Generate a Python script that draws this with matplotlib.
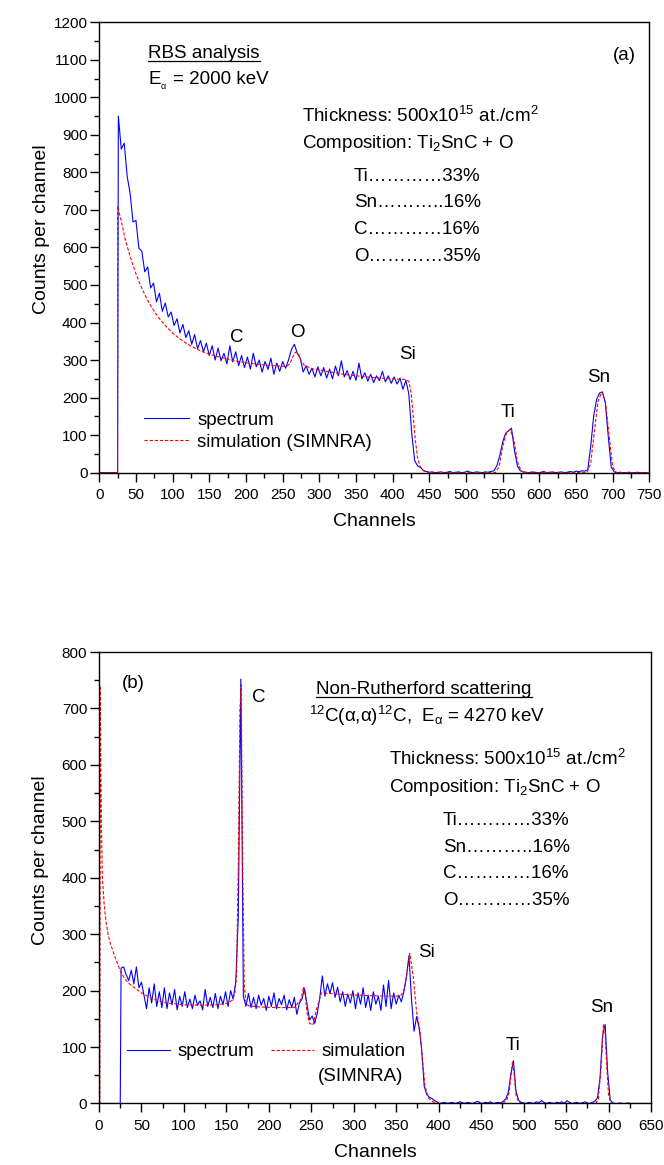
import numpy as np
import matplotlib
matplotlib.use("Agg")
import matplotlib.pyplot as plt
from matplotlib.lines import Line2D
from matplotlib.ticker import MultipleLocator

plt.rcParams['font.family'] = ['Liberation Sans', 'DejaVu Sans']
plt.rcParams['mathtext.fontset'] = 'custom'
plt.rcParams['mathtext.rm'] = 'Liberation Sans'
plt.rcParams['mathtext.it'] = 'Liberation Sans:italic'

# ---- panel (a): RBS, E = 2000 keV ----
a_lead_ch = [0, 25]
a_lead_counts = [0, 0]
a_ch = np.arange(26, 747, 4)
a_counts = [950, 862, 878, 790, 745, 668, 672, 598, 590, 535,
            548, 492, 505, 455, 478, 430, 452, 415, 428, 392,
            410, 372, 395, 360, 378, 342, 368, 330, 352, 322,
            345, 312, 338, 300, 332, 298, 318, 290, 338, 295,
            322, 285, 312, 280, 308, 276, 318, 282, 300, 268,
            296, 275, 305, 262, 292, 270, 296, 278, 300, 328,
            342, 318, 305, 268, 285, 262, 278, 255, 282, 258,
            280, 252, 276, 250, 284, 258, 298, 255, 272, 248,
            270, 246, 292, 250, 266, 244, 262, 240, 258, 245,
            270, 242, 258, 238, 255, 236, 252, 222, 246, 210,
            105, 32, 18, 14, 5, 3, 1, 2, 0, 1,
            2, 0, 1, 3, 0, 1, 2, 0, 1, 4,
            1, 0, 2, 1, 0, 2, 1, 3, 5, 18,
            45, 82, 105, 112, 118, 60, 18, 5, 2, 1,
            0, 2, 1, 0, 1, 3, 0, 1, 2, 0,
            1, 2, 0, 1, 3, 1, 4, 2, 5, 4,
            8, 70, 150, 195, 212, 215, 185, 95, 15, 2,
            0, 1, 0, 0, 1, 0, 0, 1, 0, 0,
            0]

a_sim_ch = [0, 25, 25, 30, 35, 40, 45, 50, 55, 60, 65, 70, 80, 90, 100,
            110, 120, 130, 140, 150, 160, 170, 180, 190, 200, 215, 230,
            245, 255, 260, 263, 266, 269, 272, 275, 280, 290, 310, 330,
            350, 370, 390, 410, 418, 422, 425, 428, 431, 434, 437, 440,
            445, 450, 540, 545, 550, 555, 560, 565, 570, 575, 580, 665,
            670, 675, 680, 685, 690, 695, 700, 705, 750]
a_sim_counts = [0, 0, 710, 670, 625, 590, 558, 530, 505, 483, 463, 445,
                415, 392, 372, 356, 343, 332, 323, 316, 310, 305, 300,
                296, 293, 289, 286, 284, 283, 290, 305, 318, 322, 315,
                298, 285, 277, 270, 263, 258, 254, 251, 249, 248, 243,
                215, 150, 85, 40, 18, 8, 3, 0, 0, 15, 70, 105, 115, 90,
                30, 5, 0, 0, 25, 110, 190, 215, 190, 100, 15, 0, 0]

# ---- panel (b): non-Rutherford, E = 4270 keV ----
b_lead_ch = [0, 25]
b_lead_counts = [0, 0]
b_ch = np.arange(26, 648, 3)
b_counts = [240, 242, 228, 218, 236, 212, 242, 205, 215, 192,
            168, 205, 178, 212, 172, 198, 170, 205, 168, 196,
            175, 202, 166, 190, 172, 198, 170, 185, 168, 192,
            174, 182, 166, 202, 172, 188, 170, 195, 168, 190,
            175, 198, 172, 200, 185, 215, 330, 752, 190, 172,
            195, 170, 188, 168, 192, 174, 186, 165, 190, 172,
            196, 168, 186, 175, 192, 166, 184, 170, 188, 158,
            178, 185, 204, 175, 148, 155, 142, 160, 188, 226,
            190, 212, 195, 214, 188, 206, 180, 198, 172, 194,
            178, 200, 168, 196, 176, 205, 170, 192, 165, 198,
            176, 190, 165, 210, 172, 218, 168, 196, 176, 192,
            180, 198, 225, 262, 185, 128, 154, 134, 95, 30,
            16, 11, 9, 5, 3, 0, 1, 2, 0, 1,
            2, 0, 1, 3, 1, 0, 2, 1, 0, 2,
            4, 1, 0, 2, 1, 3, 0, 1, 2, 1,
            4, 8, 20, 52, 76, 22, 6, 2, 1, 0,
            2, 1, 0, 3, 1, 5, 2, 0, 2, 1,
            0, 2, 1, 3, 0, 5, 2, 0, 1, 2,
            0, 1, 3, 1, 0, 2, 4, 10, 45, 120,
            140, 55, 6, 1, 0, 0, 1, 0, 0, 1,
            0, 0, 0, 0, 0, 0, 0, 0]

b_sim_ch = [0, 1, 1.5, 2, 3, 4, 6, 8, 10, 13, 16, 20, 25, 30, 35, 40, 50,
            60, 70, 80, 100, 120, 140, 152, 157, 160, 162, 164, 166, 167.5,
            169, 171, 173, 176, 190, 210, 230, 238, 241, 243, 245, 248, 252,
            256, 262, 270, 290, 320, 350, 356, 360, 363, 366, 370, 374, 378,
            381, 384, 388, 393, 400, 475, 480, 483, 485, 487, 489, 491, 494,
            497, 585, 588, 591, 594, 596, 598, 600, 603, 650]
b_sim_counts = [0, 0, 740, 620, 480, 400, 355, 325, 305, 285, 272, 255,
                235, 222, 213, 207, 196, 188, 182, 178, 175, 174, 175, 178,
                183, 195, 230, 420, 700, 742, 450, 210, 180, 173, 171, 170,
                170, 185, 207, 190, 160, 142, 139, 166, 196, 195, 193, 191,
                190, 192, 205, 235, 266, 225, 162, 130, 75, 30, 10, 3, 0, 0,
                5, 20, 48, 75, 50, 15, 3, 0, 0, 8, 60, 140, 125, 65, 15, 0, 0]

composition = ['Ti…………33%', 'Sn………..16%', 'C…………16%', 'O…………35%']

BLUE = '#0000ff'
RED = '#ff0000'
TXT = 13.5

fig = plt.figure(figsize=(6.64, 11.65), dpi=100)
ax1 = fig.add_axes([0.1495, 0.5943, 0.8285, 0.3866])
ax2 = fig.add_axes([0.1491, 0.0528, 0.8313, 0.3875])


def style_axes(ax, xmax, ymax):
    ax.set_xlim(0, xmax)
    ax.set_ylim(0, ymax)
    ax.xaxis.set_major_locator(MultipleLocator(50))
    ax.xaxis.set_minor_locator(MultipleLocator(25))
    ax.yaxis.set_major_locator(MultipleLocator(100))
    ax.yaxis.set_minor_locator(MultipleLocator(50))
    ax.tick_params(which='major', direction='out', length=6.5, width=1,
                   labelsize=11)
    ax.tick_params(which='minor', direction='out', length=3.8, width=1)
    ax.tick_params(axis='x', which='major', pad=4.5)
    ax.tick_params(axis='y', which='major', pad=2)
    for sp in ax.spines.values():
        sp.set_linewidth(1)
    ax.set_xlabel('Channels', fontsize=14)
    ax.set_ylabel('Counts per channel', fontsize=14)
    ax.xaxis.set_label_coords(0.5, -0.09)
    ax.yaxis.set_label_coords(-0.09, 0.54)


# panel (a)
ax1.plot(np.concatenate([a_lead_ch, a_ch]),
         np.concatenate([a_lead_counts, a_counts]),
         color=BLUE, lw=0.8, label='spectrum')
ax1.plot(a_sim_ch, a_sim_counts, color=RED, lw=0.8, ls='--',
         dashes=(3, 1.6), label='simulation (SIMNRA)')
style_axes(ax1, 750, 1200)

t_rbs = ax1.text(67, 1105, 'RBS analysis', fontsize=TXT, va='baseline')
ax1.text(67, 1036, 'E', fontsize=TXT, va='baseline')
ax1.text(84, 1022, 'α', fontsize=6.5, va='baseline')
ax1.text(101, 1036, '= 2000 keV', fontsize=TXT, va='baseline')
ax1.text(731, 1100, '(a)', fontsize=TXT, ha='right', va='baseline')
ax1.text(276, 934, r'Thickness: 500x10$^{15}$ at./cm$^{2}$', fontsize=TXT,
         va='baseline')
ax1.text(276, 865, r'Composition: Ti$_{2}$SnC + O', fontsize=TXT,
         va='baseline')
for s, yv in zip(composition, [777, 707, 636, 565]):
    ax1.text(347, yv, s, fontsize=TXT, va='baseline')
for s, xv, yv in zip(['C', 'O', 'Si', 'Ti', 'Sn'],
                     [187, 270, 420, 557, 681],
                     [349, 361, 302, 149, 242]):
    ax1.text(xv, yv, s, fontsize=TXT, ha='center', va='baseline')

ax1.legend(loc='center left', bbox_to_anchor=(61, 110),
           bbox_transform=ax1.transData, frameon=False, fontsize=TXT,
           borderpad=0, borderaxespad=0, handlelength=2.4,
           handletextpad=0.45, labelspacing=0.25)

# panel (b)
ax2.plot(np.concatenate([b_lead_ch, b_ch]),
         np.concatenate([b_lead_counts, b_counts]),
         color=BLUE, lw=0.8, label='spectrum')
ax2.plot(b_sim_ch, b_sim_counts, color=RED, lw=0.8, ls='--',
         dashes=(3, 1.6), label='simulation')
style_axes(ax2, 650, 800)

ax2.text(27, 736, '(b)', fontsize=TXT, va='baseline')
ax2.text(180, 712, 'C', fontsize=TXT, va='baseline')
t_nr = ax2.text(256, 725, 'Non-Rutherford scattering', fontsize=TXT,
                va='baseline')
ax2.text(247, 676,
         r'$^{12}$C($\mathrm{\alpha}$,$\mathrm{\alpha}$)$^{12}$C,  '
         r'E$_{\mathrm{\alpha}}$ = 4270 keV',
         fontsize=TXT, va='baseline')
ax2.text(342, 600, r'Thickness: 500x10$^{15}$ at./cm$^{2}$', fontsize=TXT,
         va='baseline')
ax2.text(342, 552, r'Composition: Ti$_{2}$SnC + O', fontsize=TXT,
         va='baseline')
for s, yv in zip(composition, [493, 446, 399, 351]):
    ax2.text(405, yv, s, fontsize=TXT, va='baseline')
ax2.text(376, 260, 'Si', fontsize=TXT, va='baseline')
ax2.text(487, 94, 'Ti', fontsize=TXT, ha='center', va='baseline')
ax2.text(592, 163, 'Sn', fontsize=TXT, ha='center', va='baseline')
ax2.text(258, 39, '(SIMNRA)', fontsize=TXT, va='baseline')

ax2.legend(loc='center left', bbox_to_anchor=(33, 92),
           bbox_transform=ax2.transData, frameon=False, fontsize=TXT,
           ncol=2, borderpad=0, borderaxespad=0, handlelength=2.3,
           handletextpad=0.4, columnspacing=0.9)

# underline the two headings
fig.canvas.draw()
renderer = fig.canvas.get_renderer()
for t, ax in [(t_rbs, ax1), (t_nr, ax2)]:
    bb = t.get_window_extent(renderer)
    base = ax.transData.transform(t.get_position())[1] - 3
    p0 = fig.transFigure.inverted().transform((bb.x0, base))
    p1 = fig.transFigure.inverted().transform((bb.x1, base))
    fig.add_artist(Line2D([p0[0], p1[0]], [p0[1], p1[1]], color='black',
                          lw=0.9))

fig.savefig('out.png', dpi=100)
